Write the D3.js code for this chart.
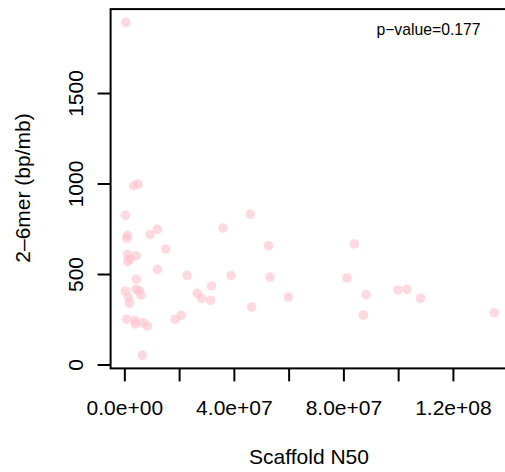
<!DOCTYPE html>
<html>
<head>
<meta charset="utf-8">
<script src="https://cdn.jsdelivr.net/npm/d3@7"></script>
<style>
  body { margin: 0; background: #fff; }
  svg text { font-family: "Liberation Sans", Arial, Helvetica, sans-serif; fill: #000; }
</style>
</head>
<body>
<svg></svg>
<script>
const width = 505;
const height = 472;

// scaffold N50 (bp) and 2-6mer density (bp/mb)
const scaffoldN50 = [
  0.51e6, 3.43e6, 5.0e6, 0.37e6, 1.1e6, 0.88e6, 9.38e6, 12.05e6, 15.1e6, 1.1e6,
  2.08e6, 1.24e6, 4.27e6, 12.05e6, 4.38e6, 0.37e6, 4.27e6, 5.37e6, 6.1e6, 1.46e6,
  1.83e6, 0.88e6, 3.9e6, 4.0e6, 6.94e6, 8.4e6, 6.57e6, 18.6e6, 20.8e6, 22.9e6,
  26.65e6, 28.26e6, 31.5e6, 31.8e6, 36.0e6, 38.96e6, 46.0e6, 46.5e6, 52.7e6, 53.2e6,
  59.9e6, 84.0e6, 81.3e6, 88.2e6, 87.3e6, 99.9e6, 103.2e6, 108.2e6, 135.1e6
];
const merDensity = [
  1890, 988, 997, 824, 712, 697, 717, 747, 638, 607,
  583, 568, 601, 526, 471, 406, 415, 408, 384, 371,
  338, 250, 244, 224, 231, 213, 52, 250, 273, 493,
  393, 364, 355, 434, 754, 491, 830, 318, 656, 483,
  373, 666, 478, 386, 273, 412, 415, 366, 286
];
const xTicks = [0, 2e7, 4e7, 6e7, 8e7, 1e8, 1.2e8];
const xLabelled = [0, 4e7, 8e7, 1.2e8];
const yTicks = [0, 500, 1000, 1500];
const pValue = "0.177";

const plotLeft = 110.6, plotRight = 509, plotTop = 9.1, plotBottom = 368.4;

// R style: extend data range by 4% on each side
function rExtent(vals) {
  const [a, b] = d3.extent(vals);
  const pad = (b - a) * 0.04;
  return [a - pad, b + pad];
}

const x = d3.scaleLinear().domain(rExtent(scaffoldN50)).range([plotLeft, plotRight]);
const y = d3.scaleLinear().domain(rExtent(merDensity)).range([plotBottom, plotTop]);

function sci(v) {
  const e = v === 0 ? 0 : Math.floor(Math.log10(Math.abs(v)));
  const m = v / Math.pow(10, e);
  return m.toFixed(1) + "e+" + String(e).padStart(2, "0");
}

const svg = d3.select('svg')
  .attr('width', width)
  .attr('height', height);

const data = scaffoldN50.map((d, i) => ({ x: d, y: merDensity[i] }));

svg.append('g')
  .selectAll('circle')
  .data(data)
  .enter()
  .append('circle')
    .attr('cx', d => x(d.x))
    .attr('cy', d => y(d.y))
    .attr('r', 4.8)
    .attr('fill', 'pink')
    .attr('fill-opacity', 0.6);

// box (top, left, bottom; right side falls outside the picture)
svg.append('rect')
  .attr('x', plotLeft)
  .attr('y', plotTop)
  .attr('width', plotRight - plotLeft)
  .attr('height', plotBottom - plotTop)
  .attr('fill', 'none')
  .attr('stroke', '#000')
  .attr('stroke-width', 2);

const xAxis = svg.append('g')
  .attr('transform', `translate(0,${plotBottom})`)
  .call(d3.axisBottom(x)
    .tickValues(xTicks)
    .tickSize(13)
    .tickFormat(d => xLabelled.includes(d) ? sci(d) : ''));
xAxis.select('.domain').remove();
xAxis.selectAll('line').attr('stroke-width', 2);
xAxis.selectAll('text')
  .attr('y', 46.6)
  .attr('dy', 0)
  .style('font-size', '21px')
  .attr('font-family', null);

const yAxis = svg.append('g')
  .attr('transform', `translate(${plotLeft},0)`)
  .call(d3.axisLeft(y)
    .tickValues(yTicks)
    .tickSize(13)
    .tickFormat(d3.format('d')));
yAxis.select('.domain').remove();
yAxis.selectAll('line').attr('stroke-width', 2);
yAxis.selectAll('text')
  .attr('transform', 'rotate(-90)')
  .attr('x', 0)
  .attr('y', -(plotLeft - 83))
  .attr('dy', 0)
  .attr('text-anchor', 'middle')
  .style('font-size', '21px')
  .attr('font-family', null);

svg.append('text')
  .attr('x', 309)
  .attr('y', 464)
  .attr('text-anchor', 'middle')
  .style('font-size', '21px')
  .text('Scaffold N50');

svg.append('text')
  .attr('transform', 'translate(29.5,188) rotate(-90)')
  .attr('text-anchor', 'middle')
  .style('font-size', '21px')
  .text('2–6mer (bp/mb)');

svg.append('text')
  .attr('x', 428.5)
  .attr('y', 34.5)
  .attr('text-anchor', 'middle')
  .style('font-size', '15.75px')
  .text('p\u2212value=' + pValue);
</script>
</body>
</html>
